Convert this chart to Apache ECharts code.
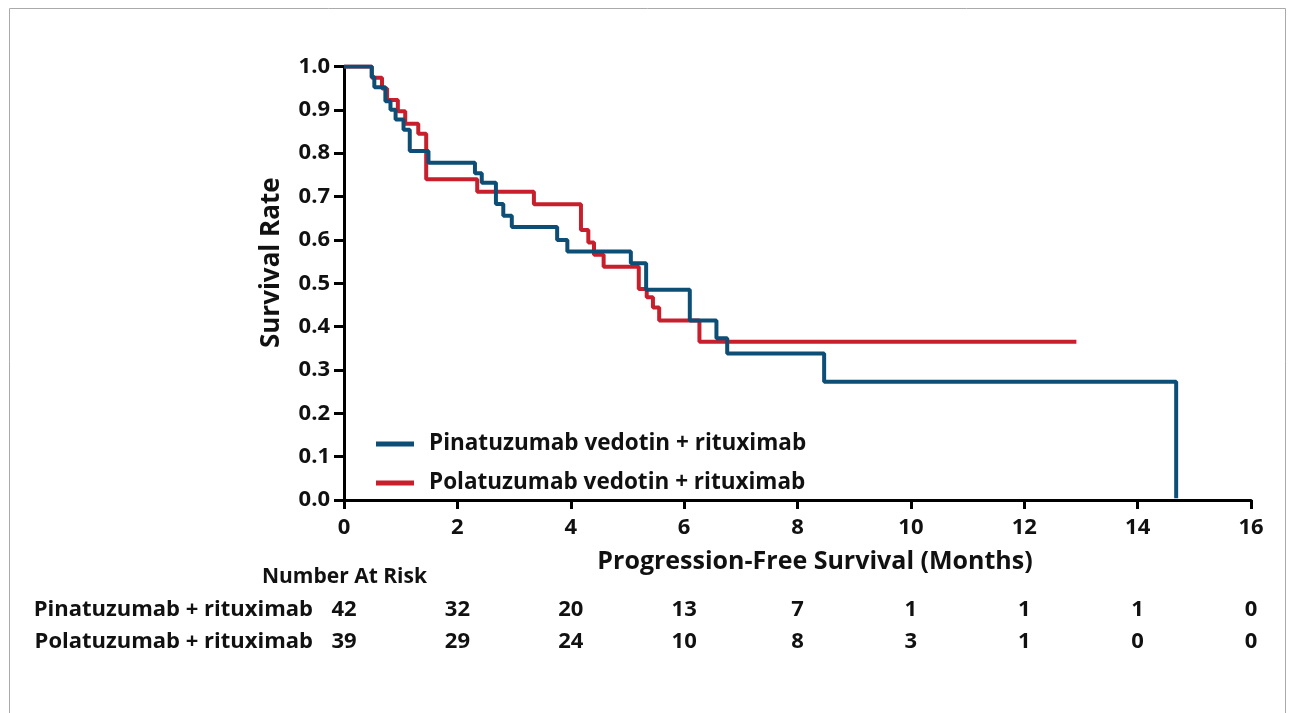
<!DOCTYPE html>
<html>
<head>
<meta charset="utf-8">
<script src="https://cdn.jsdelivr.net/npm/echarts@6/dist/echarts.min.js"></script>
<style>
html,body{margin:0;padding:0;background:#fff;}
#c{width:1289px;height:713px;}
</style>
</head>
<body>
<div id="c"></div>
<script>
// ---- data ----
const seriesNames = ['Pinatuzumab vedotin + rituximab', 'Polatuzumab vedotin + rituximab'];
const pinaKM = [
  [0,1.0],[0.49,0.976],[0.535,0.952],[0.73,0.92],[0.82,0.9],[0.91,0.878],[1.05,0.854],
  [1.16,0.805],[1.49,0.778],[2.31,0.754],[2.43,0.732],[2.68,0.683],[2.81,0.656],[2.96,0.63],
  [3.76,0.6],[3.94,0.573],[5.06,0.546],[5.33,0.485],[6.10,0.414],[6.57,0.373],[6.76,0.338],
  [8.47,0.273],[14.68,0.004]
];
const polaKM = [
  [0,1.0],[0.49,0.974],[0.67,0.949],[0.76,0.923],[0.95,0.897],[1.08,0.868],[1.31,0.845],
  [1.45,0.74],[2.35,0.711],[3.35,0.682],[4.18,0.623],[4.31,0.594],[4.41,0.566],[4.58,0.538],
  [5.2,0.487],[5.34,0.468],[5.45,0.444],[5.56,0.414],[6.27,0.365],[12.92,0.365]
];
const yTicks = [0,0.1,0.2,0.3,0.4,0.5,0.6,0.7,0.8,0.9,1.0];
const riskRowNames = ['Pinatuzumab + rituximab', 'Polatuzumab + rituximab'];
const riskPina = [42,32,20,13,7,1,1,1,0];
const riskPola = [39,29,24,10,8,3,1,0,0];
const xTitle = 'Progression-Free Survival (Months)';
const yTitle = 'Survival Rate';
const riskTitle = 'Number At Risk';

// ---- styling ----
const BLUE = '#0d4e76';
const RED = '#c81f2d';
const FONT = '"Open Sans"';
const chart = echarts.init(document.getElementById('c'));

function riskAxis(values, name, offset) {
  return {
    type: 'value', min: 0, max: 16, interval: 2, position: 'bottom', offset: offset,
    axisLine: {show: false}, axisTick: {show: false}, splitLine: {show: false},
    axisLabel: {
      margin: 0, verticalAlign: 'middle', fontFamily: FONT, fontWeight: 'bold', fontSize: 22, color: '#111',
      formatter: v => String(values[Math.round(v / 2)])
    },
    name: name, nameLocation: 'start', nameGap: 31,
    nameTextStyle: {fontFamily: FONT, fontWeight: 'bold', fontSize: 22, color: '#111', verticalAlign: 'middle'}
  };
}

chart.setOption({
  animation: false,
  title: {
    text: riskTitle, left: 257, top: 562,
    textStyle: {fontFamily: FONT, fontWeight: 'bold', fontSize: 21, color: '#111'}
  },
  graphic: [{
    type: 'rect', left: 7, top: 6, shape: {width: 1276, height: 740}, silent: true,
    style: {fill: 'none', stroke: '#aaaaaa', lineWidth: 1}
  }],
  legend: {
    orient: 'vertical', left: 376, top: 431, itemGap: 13, padding: 0,
    itemWidth: 38, itemHeight: 5, icon: 'rect',
    data: seriesNames,
    textStyle: {fontFamily: FONT, fontWeight: 'bold', fontSize: 22.5, lineHeight: 26, color: '#111', padding: [0,0,0,10]}
  },
  grid: {left: 344, right: 38, top: 66.5, bottom: 208, containLabel: false},
  xAxis: [{
    type: 'value', min: 0, max: 16, interval: 2,
    axisLine: {show: true, lineStyle: {color: '#000', width: 3}},
    axisTick: {show: true, length: 9, lineStyle: {color: '#000', width: 3}},
    splitLine: {show: false},
    axisLabel: {margin: 12, fontFamily: FONT, fontWeight: 'bold', fontSize: 22, color: '#111'},
    name: xTitle, nameLocation: 'middle', nameGap: 44,
    nameTextStyle: {fontFamily: FONT, fontWeight: 'bold', fontSize: 25, color: '#111', padding: [0,0,0,35]}
  },
  riskAxis(riskPina, riskRowNames[0], 105),
  riskAxis(riskPola, riskRowNames[1], 137)
  ],
  yAxis: {
    type: 'value', min: -0.0115, max: 1.0,
    axisLine: {show: true, onZero: false, lineStyle: {color: '#000', width: 3}},
    axisTick: {show: true, length: 10, customValues: yTicks, lineStyle: {color: '#000', width: 3}},
    axisLabel: {margin: 14, customValues: yTicks, fontFamily: FONT, fontWeight: 'bold', fontSize: 22, color: '#111',
      formatter: v => v.toFixed(1)},
    splitLine: {show: false},
    name: yTitle, nameLocation: 'middle', nameGap: 59, nameRotate: 90,
    nameTextStyle: {fontFamily: FONT, fontWeight: 'bold', fontSize: 26, color: '#111', padding: [0,0,0,46]}
  },
  series: [
    {name: seriesNames[1], type: 'line', step: 'end', data: polaKM, showSymbol: false, symbol: 'none',
      lineStyle: {color: RED, width: 4}, itemStyle: {color: RED}, z: 2},
    {name: seriesNames[0], type: 'line', step: 'end', data: pinaKM, showSymbol: false, symbol: 'none',
      lineStyle: {color: BLUE, width: 4}, itemStyle: {color: BLUE}, z: 3}
  ]
});
</script>
</body>
</html>
